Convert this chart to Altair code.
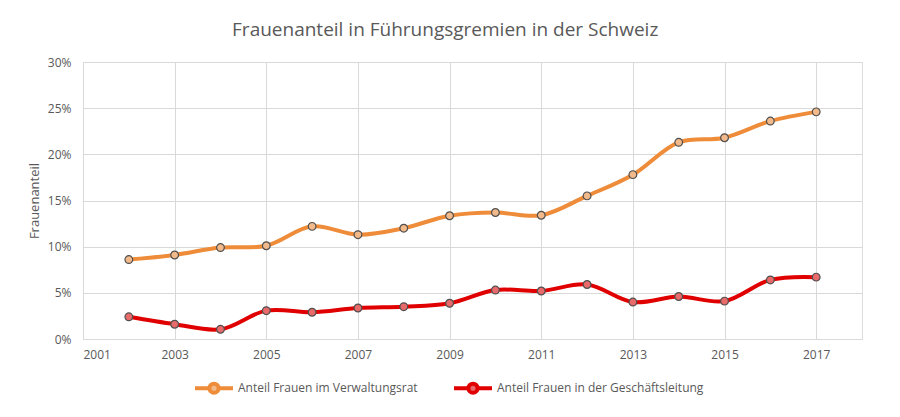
import altair as alt
import pandas as pd

years = list(range(2002, 2018))
verwaltungsrat = [8.6, 9.1, 9.9, 10.1, 12.2, 11.3, 12.0, 13.35, 13.7, 13.4, 15.5, 17.8, 21.3, 21.8, 23.6, 24.6]
geschaeftsleitung = [2.4, 1.6, 1.05, 3.07, 2.9, 3.36, 3.5, 3.87, 5.3, 5.2, 5.9, 4.0, 4.6, 4.1, 6.4, 6.7]
series_names = ["Anteil Frauen im Verwaltungsrat", "Anteil Frauen in der Geschäftsleitung"]
line_colors = ["#EE8C3A", "#E00000"]
point_fills = ["#F2B98A", "#E86A6A"]
x_ticks = list(range(2001, 2018, 2))
y_ticks = [0, 0.05, 0.10, 0.15, 0.20, 0.25, 0.30]

rows = []
for y, a, b in zip(years, verwaltungsrat, geschaeftsleitung):
    rows.append({"Jahr": y, "Serie": series_names[0], "Wert": a / 100})
    rows.append({"Jahr": y, "Serie": series_names[1], "Wert": b / 100})
df = pd.DataFrame(rows)

FONT = "Open Sans"
GRAY = "#595959"

legend_path = "M-1,0 L-0.24,0 M0.24,0 L1,0 M-0.24,0 A0.24,0.24 0 1,1 0.24,0 A0.24,0.24 0 1,1 -0.24,0 Z"

x = alt.X("Jahr:Q", scale=alt.Scale(domain=[2001, 2018], nice=False, zero=False),
          axis=alt.Axis(values=x_ticks, format="d", title=None, grid=True, ticks=False,
                        labelPadding=10, labelFontSize=12, labelColor=GRAY, labelFont=FONT,
                        domainColor="#D9D9D9", gridColor="#D9D9D9"))
y = alt.Y("Wert:Q", scale=alt.Scale(domain=[0, 0.3], nice=False),
          axis=alt.Axis(values=y_ticks, format=".0%", title="Frauenanteil", grid=True, ticks=False,
                        domain=False, labelPadding=12, labelFontSize=12, labelColor=GRAY,
                        labelFont=FONT, titleFont=FONT, titleFontSize=13, titleFontWeight="normal",
                        titleColor=GRAY, titlePadding=6, gridColor="#D9D9D9"))
color = alt.Color("Serie:N", scale=alt.Scale(domain=series_names, range=line_colors),
                  legend=alt.Legend(title=None, orient="none", direction="horizontal",
                                    legendX=110, legendY=305, padding=0,
                                    symbolType=legend_path, symbolSize=1444, symbolStrokeWidth=4,
                                    labelFont=FONT, labelFontSize=12, labelColor=GRAY,
                                    labelLimit=0, columnPadding=28, labelOffset=3))

lines = alt.Chart(df).mark_line(strokeWidth=4, interpolate="catmull-rom").encode(x=x, y=y, color=color)
points = alt.Chart(df).mark_point(filled=True, size=60, stroke="#505050", strokeWidth=1.2, opacity=1).encode(
    x="Jahr:Q", y="Wert:Q",
    fill=alt.Fill("Serie:N", scale=alt.Scale(domain=series_names, range=point_fills), legend=None))

chart = alt.layer(lines, points).properties(
    width=779, height=277,
    title=alt.TitleParams("Frauenanteil in Führungsgremien in der Schweiz", font=FONT, fontSize=19,
                          fontWeight="normal", color=GRAY, anchor="middle", frame="bounds", offset=16),
    autosize=alt.AutoSizeParams(type="none"),
    padding={"left": 75, "top": 54, "right": 30, "bottom": 70},
).configure_view(stroke=None).configure(background="white")

chart.save("out.html", embed_options={"renderer": "svg", "actions": False})
